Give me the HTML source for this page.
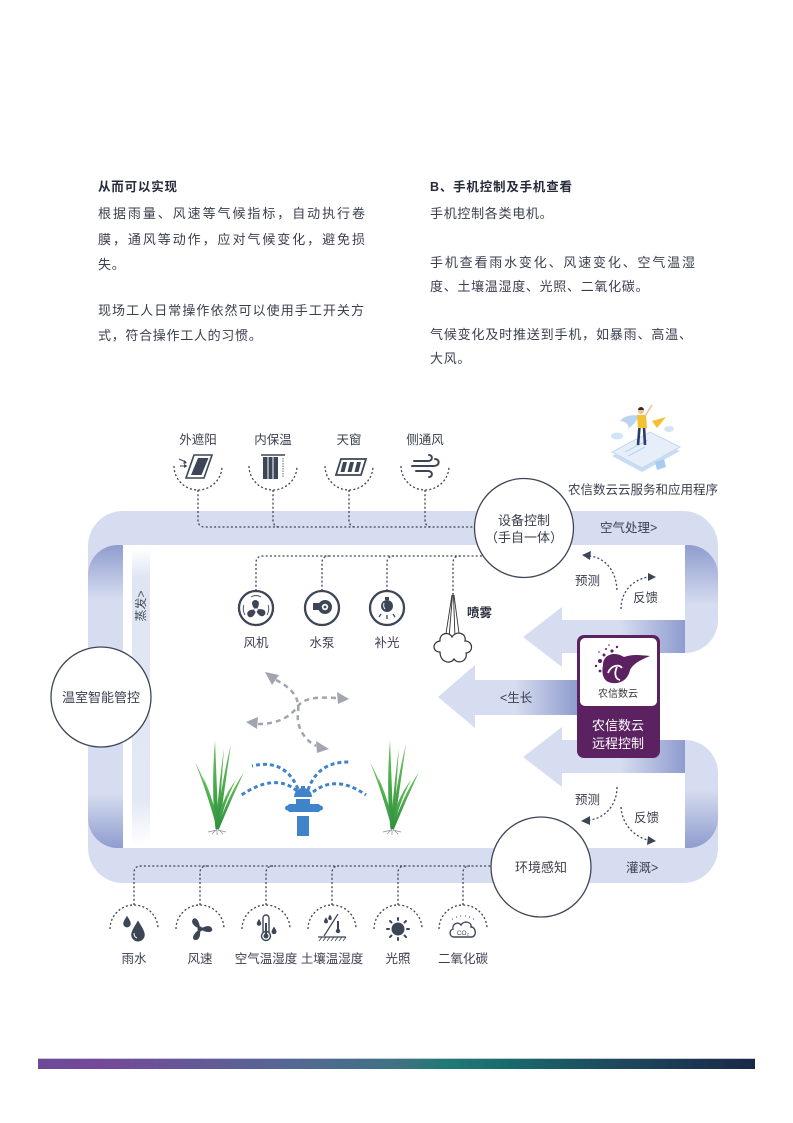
<!DOCTYPE html>
<html><head><meta charset="utf-8">
<style>
html,body{margin:0;padding:0;background:#fff;}
svg{display:block}
text{font-family:"Liberation Sans","Noto Sans CJK SC",sans-serif;fill:#3a3f4d;font-size:12.5px}
.b{font-weight:bold;fill:#262b3a;font-size:12.5px;letter-spacing:0.8px}
.p{font-size:13px;letter-spacing:0.7px;fill:#3a3f4d}
.j{font-size:13px;fill:#3a3f4d}
.dl{fill:none;stroke:#3d4656;stroke-width:1.3;stroke-dasharray:2 2.2}
.ic{fill:#3d4656}
.ics{fill:none;stroke:#3d4656}
</style></head><body>
<svg width="793" height="1123" viewBox="0 0 793 1123" xmlns="http://www.w3.org/2000/svg">
<defs>
 <linearGradient id="gL" x1="0" y1="545" x2="0" y2="848" gradientUnits="userSpaceOnUse">
  <stop offset="0" stop-color="#8f9cce"/><stop offset="0.18" stop-color="#d6ddf0"/>
  <stop offset="0.82" stop-color="#d6ddf0"/><stop offset="1" stop-color="#8f9cce"/>
 </linearGradient>
 <linearGradient id="gTR" x1="0" y1="545" x2="0" y2="605" gradientUnits="userSpaceOnUse">
  <stop offset="0" stop-color="#8f9cce"/><stop offset="1" stop-color="#d6ddf0"/>
 </linearGradient>
 <linearGradient id="gBR" x1="0" y1="790" x2="0" y2="848" gradientUnits="userSpaceOnUse">
  <stop offset="0" stop-color="#d6ddf0"/><stop offset="1" stop-color="#8f9cce"/>
 </linearGradient>
 <linearGradient id="gH" x1="0" y1="0" x2="1" y2="0">
  <stop offset="0" stop-color="#d6ddf0"/><stop offset="1" stop-color="#8f9cce"/>
 </linearGradient>
 <linearGradient id="gV" x1="0" y1="548" x2="0" y2="845" gradientUnits="userSpaceOnUse">
  <stop offset="0" stop-color="#ffffff"/><stop offset="0.1" stop-color="#e0e5f4"/>
  <stop offset="0.85" stop-color="#e3e8f5"/><stop offset="1" stop-color="#ffffff"/>
 </linearGradient>
 <linearGradient id="gBar" x1="0" y1="0" x2="1" y2="0">
  <stop offset="0" stop-color="#6b4a98"/><stop offset="0.08" stop-color="#76489a"/>
  <stop offset="0.35" stop-color="#556794"/><stop offset="0.5" stop-color="#3f7283"/>
  <stop offset="0.57" stop-color="#1f7a75"/><stop offset="0.66" stop-color="#176a6c"/>
  <stop offset="0.8" stop-color="#1d4a5e"/><stop offset="1" stop-color="#1a2848"/>
 </linearGradient>
 <linearGradient id="gGr" x1="0" y1="1" x2="0" y2="0">
  <stop offset="0" stop-color="#2c8f3c"/><stop offset="1" stop-color="#6cc45e"/>
 </linearGradient>
</defs>

<!-- Top text -->
<text class="b" x="98" y="191">从而可以实现</text>
<text class="j" x="98" y="218" textLength="267" lengthAdjust="spacing">根据雨量、风速等气候指标，自动执行卷</text>
<text class="j" x="98" y="244" textLength="267" lengthAdjust="spacing">膜，通风等动作，应对气候变化，避免损</text>
<text class="p" x="98" y="269">失。</text>
<text class="j" x="98" y="315" textLength="266" lengthAdjust="spacing">现场工人日常操作依然可以使用手工开关方</text>
<text class="p" x="98" y="340">式，符合操作工人的习惯。</text>

<text class="b" x="430" y="191">B、手机控制及手机查看</text>
<text class="p" x="430" y="218">手机控制各类电机。</text>
<text class="j" x="430" y="267" textLength="265" lengthAdjust="spacing">手机查看雨水变化、风速变化、空气温湿</text>
<text class="p" x="430" y="291">度、土壤温湿度、光照、二氧化碳。</text>
<text class="j" x="430" y="339" textLength="262" lengthAdjust="spacing">气候变化及时推送到手机，如暴雨、高温、</text>
<text class="p" x="430" y="363">大风。</text>

<!-- Pipe -->
<path fill="#d6ddf0" d="M 123,511 H 683 A 35 35 0 0 1 718,546 V 620 A 33 33 0 0 1 685,653 H 562 V 620 H 685 V 545 H 123 V 848 H 685 V 773 H 562 V 740 H 685 A 33 33 0 0 1 718,773 V 848 A 35 35 0 0 1 683,883 H 123 A 35 35 0 0 1 88,848 V 546 A 35 35 0 0 1 123,511 Z"/>
<path fill="url(#gL)" d="M 123,545 V 848 H 118 A 30 30 0 0 1 88,818 V 575 A 30 30 0 0 1 118,545 Z"/>
<path fill="url(#gTR)" d="M 685,545 H 688 A 30 30 0 0 1 718,575 V 620 H 685 Z"/>
<path fill="url(#gBR)" d="M 685,773 H 718 V 818 A 30 30 0 0 1 688,848 H 685 Z"/>
<rect x="620" y="620" width="65" height="33" fill="url(#gH)"/>
<rect x="620" y="740" width="65" height="33" fill="url(#gH)"/>
<polygon fill="#d6ddf0" points="523,637 562,607 562,667"/>
<polygon fill="#d6ddf0" points="523,757 562,727 562,787"/>
<polygon fill="#d6ddf0" points="438,697 475,665 475,728"/>
<rect x="475" y="680" width="102" height="35" fill="#d6ddf0"/>
<rect x="515" y="680" width="62" height="35" fill="url(#gH)"/>

<!-- evaporation strip -->
<rect x="132" y="548" width="18" height="297" fill="url(#gV)"/>
<text transform="translate(145,606) rotate(-90)" text-anchor="middle" style="font-size:12px;fill:#4a4f5c">蒸发&gt;</text>

<!-- pipe labels -->
<text x="600" y="532">空气处理&gt;</text>
<text x="626" y="872">灌溉&gt;</text>
<text x="500" y="702">&lt;生长</text>
<text x="575" y="585">预测</text>
<text x="633" y="602">反馈</text>
<text x="575" y="804">预测</text>
<text x="634" y="822">反馈</text>

<!-- feedback arrows -->
<path class="dl" d="M 617,590 C 616,570 605,558 590,556"/>
<polygon class="ic" points="582,555 591,551 590,560"/>
<path class="dl" d="M 621,609 C 621,592 632,580 648,577"/>
<polygon class="ic" points="656,577 648,573 648,581"/>
<path class="dl" d="M 617,787 C 617,805 605,818 590,820"/>
<polygon class="ic" points="581,821 590,816 590,825"/>
<path class="dl" d="M 621,807 C 622,825 635,837 648,840"/>
<polygon class="ic" points="656,841 648,836 647,845"/>

<!-- Top icons -->
<text x="198" y="444" text-anchor="middle">外遮阳</text>
<text x="273" y="444" text-anchor="middle">内保温</text>
<text x="349" y="444" text-anchor="middle">天窗</text>
<text x="425" y="444" text-anchor="middle">侧通风</text>
<path class="dl" d="M 174,466 A 24 24 0 0 0 222,466"/>
<path class="dl" d="M 249,466 A 24 24 0 0 0 297,466"/>
<path class="dl" d="M 325,466 A 24 24 0 0 0 373,466"/>
<path class="dl" d="M 401,466 A 24 24 0 0 0 449,466"/>
<path class="dl" d="M 198,490 V 520 Q 198,527 205,527 H 480"/>
<path class="dl" d="M 273,490 V 520 Q 273,527 280,527"/>
<path class="dl" d="M 349,490 V 520 Q 349,527 356,527"/>
<path class="dl" d="M 425,490 V 520 Q 425,527 432,527"/>
<!-- 外遮阳 -->
<polygon points="194,455 212,455 204,478 186,478" fill="none" stroke="#3d4656" stroke-width="1.6"/>
<polygon class="ic" points="198,458 208.5,458 201.5,475 191,475"/>
<path d="M 179,459 L 186,462 M 180,466 L 186,466" stroke="#3d4656" stroke-width="1" fill="none"/>
<polygon class="ic" points="187,463 184,460 183.5,464"/>
<polygon class="ic" points="187.5,466 184,464 184,468"/>
<!-- 内保温 -->
<line x1="261" y1="455" x2="285" y2="455" stroke="#3d4656" stroke-width="1.5"/>
<rect class="ic" x="263" y="457" width="15" height="22"/>
<line x1="268" y1="457" x2="268" y2="479" stroke="#fff" stroke-width="1"/>
<line x1="273" y1="457" x2="273" y2="479" stroke="#fff" stroke-width="1"/>
<line x1="283" y1="458" x2="283" y2="477" stroke="#3d4656" stroke-width="0.8" stroke-dasharray="1.5 1"/>
<!-- 天窗 -->
<polygon points="341,459 366,459 361,475 336,475" fill="none" stroke="#3d4656" stroke-width="1.8"/>
<polygon class="ic" points="343,462 347,462 344.5,472 340.5,472"/>
<polygon class="ic" points="350,462 354,462 351.5,472 347.5,472"/>
<polygon class="ic" points="357,462 361,462 358.5,472 354.5,472"/>
<!-- 侧通风 -->
<path d="M 414,461 H 428 C 433,461 433,455 429,455 M 412,466 H 434 C 440,466 440,459 435,459 M 416,471 H 428 C 433,471 433,477 429,477" fill="none" stroke="#3d4656" stroke-width="2" stroke-linecap="round"/>

<!-- Middle dotted lines -->
<path class="dl" d="M 256,591 V 563 Q 256,556 263,556 H 486"/>
<path class="dl" d="M 322,591 V 563 Q 322,556 329,556"/>
<path class="dl" d="M 387,591 V 563 Q 387,556 394,556"/>
<path class="dl" d="M 453,595 V 563 Q 453,556 460,556"/>

<!-- Middle icons -->
<circle cx="256" cy="608" r="17" fill="#fff" stroke="#3d4656" stroke-width="2.3"/>
<circle cx="322" cy="608" r="17" fill="#fff" stroke="#3d4656" stroke-width="2.3"/>
<circle cx="387" cy="608" r="17" fill="#fff" stroke="#3d4656" stroke-width="2.3"/>
<g transform="translate(256,610)" class="ic">
 <path d="M0,0 C-4,-3 -6,-9 -1,-10 C4,-10 4,-4 0,0 Z"/>
 <path d="M0,0 C-4,-3 -6,-9 -1,-10 C4,-10 4,-4 0,0 Z" transform="rotate(120)"/>
 <path d="M0,0 C-4,-3 -6,-9 -1,-10 C4,-10 4,-4 0,0 Z" transform="rotate(240)"/>
 <circle r="1.6" fill="#fff"/>
</g>
<path d="M 251,597 Q 256,594 261,597 M 244,605 Q 242,610 245,615 M 268,605 Q 270,610 267,615" fill="none" stroke="#3d4656" stroke-width="0.9"/>
<rect class="ic" x="313" y="603" width="9" height="7"/>
<circle class="ic" cx="325" cy="607" r="7"/>
<circle cx="325" cy="607" r="3.2" fill="#fff"/>
<circle class="ic" cx="325" cy="607" r="1.4"/>
<rect class="ic" x="385" y="597" width="4" height="3"/>
<circle class="ic" cx="387" cy="606" r="6"/>
<path d="M 384,603 Q 383,607 385,609" stroke="#fff" stroke-width="1" fill="none"/>
<path d="M 381,614 L 379,617 M 387,615 L 387,619 M 393,614 L 395,617" stroke="#3d4656" stroke-width="1.3"/>
<text x="256" y="647" text-anchor="middle">风机</text>
<text x="322" y="647" text-anchor="middle">水泵</text>
<text x="387" y="647" text-anchor="middle">补光</text>

<!-- spray -->
<path d="M 452,595 L 445,640 M 452.5,595 L 449,638 M 453.5,595 L 455,638 M 454,595 L 460,641" stroke="#333" stroke-width="0.9" fill="none"/>
<path d="M 440,652 C 432,652 432,642 440,641 C 439,633 449,631 452,637 C 456,630 467,633 465,641 C 473,641 474,652 466,653 C 468,661 458,665 454,659 C 450,665 440,662 440,652 Z" fill="#fff" stroke="#333" stroke-width="1.2"/>
<text x="467" y="617" style="font-weight:bold;fill:#262b3a">喷雾</text>

<!-- gray arrows -->
<path d="M 276,680 C 292,688 300,698 298,712 C 296,728 305,740 316,746" fill="none" stroke="#a0a5ae" stroke-width="2.5" stroke-dasharray="5 4"/>
<polygon fill="#a0a5ae" points="265,672 279,675 272,685"/>
<polygon fill="#a0a5ae" points="329,749 316,741 317,753"/>
<path d="M 258,724 C 280,724 292,715 298,706 C 305,697 320,697 336,698" fill="none" stroke="#a0a5ae" stroke-width="2.5" stroke-dasharray="5 4"/>
<polygon fill="#a0a5ae" points="246,722 258,717 257,729"/>
<polygon fill="#a0a5ae" points="349,699 337,692 338,704"/>

<!-- sprinkler -->
<g fill="none" stroke="#3f84c8" stroke-width="3" stroke-dasharray="4 3">
 <path d="M 298,789 Q 285,758 252,766"/>
 <path d="M 297,791 Q 275,772 240,796"/>
 <path d="M 308,790 Q 318,761 350,762"/>
 <path d="M 313,792 Q 336,774 366,795"/>
</g>
<path d="M 294,797 A 9 9 0 0 1 312,797 Z" fill="#3f84c8"/>
<rect x="301" y="786" width="4" height="3" fill="#3f84c8"/>
<rect x="288" y="804" width="32" height="8" rx="2" fill="#3f84c8"/>
<rect x="285" y="805.5" width="38" height="5" rx="2.5" fill="#3f84c8"/>
<rect x="296" y="799" width="14" height="5" fill="#3f84c8"/>
<rect x="297" y="816" width="12" height="20" fill="#3f84c8"/>

<!-- plants -->
<g id="plant">
 <g fill="url(#gGr)">
  <path d="M 215.5,829 Q 211,790 215,740 Q 217,790 218.5,829 Z"/>
  <path d="M 216,829 Q 222,780 231,744 Q 225,786 219,829 Z"/>
  <path d="M 217,829 Q 207,792 195,762 Q 211,792 219,829 Z"/>
  <path d="M 217,829 Q 228,796 244,772 Q 231,800 219,829 Z"/>
  <path d="M 216,829 Q 218,790 224,748 Q 221,790 219,829 Z"/>
  <path d="M 217,829 Q 210,800 203,777 Q 214,800 219,829 Z"/>
  <path d="M 217,829 Q 220,800 236,780 Q 223,805 219,829 Z"/>
 </g>
 <path d="M 217,829 L 212,834 M 217,829 L 217,835 M 218,829 L 223,834 M 217,830 L 208,832 M 218,830 L 226,832" stroke="#8a8f96" stroke-width="0.7"/>
</g>
<use href="#plant" transform="translate(175,0)"/>

<!-- Bottom dotted lines -->
<path class="dl" d="M 134,905 V 873 Q 134,866 141,866 H 495"/>
<path class="dl" d="M 200,905 V 873 Q 200,866 207,866"/>
<path class="dl" d="M 266,905 V 873 Q 266,866 273,866"/>
<path class="dl" d="M 332,905 V 873 Q 332,866 339,866"/>
<path class="dl" d="M 398,905 V 873 Q 398,866 405,866"/>
<path class="dl" d="M 463,905 V 873 Q 463,866 470,866"/>
<path class="dl" d="M 110,929 A 24 24 0 0 1 158,929"/>
<path class="dl" d="M 176,929 A 24 24 0 0 1 224,929"/>
<path class="dl" d="M 242,929 A 24 24 0 0 1 290,929"/>
<path class="dl" d="M 308,929 A 24 24 0 0 1 356,929"/>
<path class="dl" d="M 374,929 A 24 24 0 0 1 422,929"/>
<path class="dl" d="M 439,929 A 24 24 0 0 1 487,929"/>

<!-- Bottom icons -->
<path class="ic" transform="translate(127,921) scale(0.75)" d="M0,-7 C3,-2 5,1 5,3.5 A5,5 0 0 1 -5,3.5 C-5,1 -3,-2 0,-7 Z"/>
<path class="ic" transform="translate(138,930) scale(1.35)" d="M0,-7 C3,-2 5,1 5,3.5 A5,5 0 0 1 -5,3.5 C-5,1 -3,-2 0,-7 Z"/>
<path d="M 134,933 Q 134,937 137,938" stroke="#fff" stroke-width="1" fill="none"/>
<g transform="translate(200,929)" class="ic">
 <path d="M0,0 C-5,-2 -10,-6 -7,-10 C-4,-13 0,-7 0,0 Z"/>
 <path d="M0,0 C-5,-2 -10,-6 -7,-10 C-4,-13 0,-7 0,0 Z" transform="rotate(125)"/>
 <path d="M0,0 C-5,-2 -10,-6 -7,-10 C-4,-13 0,-7 0,0 Z" transform="rotate(240)"/>
 <circle r="2.5"/>
</g>
<rect x="263" y="915" width="6" height="19" rx="3" fill="#fff" stroke="#3d4656" stroke-width="1.4"/>
<circle cx="266" cy="936" r="4.5" fill="#fff" stroke="#3d4656" stroke-width="1.4"/>
<circle class="ic" cx="266" cy="936" r="2.5"/>
<rect class="ic" x="265" y="923" width="2" height="12"/>
<path class="ic" transform="translate(259,922) scale(0.45)" d="M0,-7 C3,-2 5,1 5,3.5 A5,5 0 0 1 -5,3.5 C-5,1 -3,-2 0,-7 Z"/>
<path class="ic" transform="translate(274,930) scale(0.5)" d="M0,-7 C3,-2 5,1 5,3.5 A5,5 0 0 1 -5,3.5 C-5,1 -3,-2 0,-7 Z"/>
<line x1="318" y1="937" x2="346" y2="937" stroke="#3d4656" stroke-width="1.2"/>
<path d="M 319,941 L 322,937 M 323,941 L 326,937 M 327,941 L 330,937 M 331,941 L 334,937 M 335,941 L 338,937 M 339,941 L 342,937 M 343,941 L 346,937" stroke="#3d4656" stroke-width="0.8"/>
<line x1="324" y1="936" x2="338" y2="914" stroke="#3d4656" stroke-width="1.2"/>
<path class="ic" transform="translate(326,920) scale(0.4)" d="M0,-7 C3,-2 5,1 5,3.5 A5,5 0 0 1 -5,3.5 C-5,1 -3,-2 0,-7 Z"/>
<path class="ic" transform="translate(330,917) scale(0.35)" d="M0,-7 C3,-2 5,1 5,3.5 A5,5 0 0 1 -5,3.5 C-5,1 -3,-2 0,-7 Z"/>
<rect class="ic" x="337" y="921" width="2" height="9"/>
<circle class="ic" cx="338" cy="931" r="2.2"/>
<circle class="ic" cx="398" cy="929" r="6.5"/>
<g stroke="#3d4656" stroke-width="2" stroke-linecap="round">
 <line x1="398" y1="918" x2="398" y2="920"/><line x1="398" y1="938" x2="398" y2="940"/>
 <line x1="387" y1="929" x2="389" y2="929"/><line x1="407" y1="929" x2="409" y2="929"/>
 <line x1="390" y1="921" x2="391.5" y2="922.5"/><line x1="404.5" y1="935.5" x2="406" y2="937"/>
 <line x1="406" y1="921" x2="404.5" y2="922.5"/><line x1="391.5" y1="935.5" x2="390" y2="937"/>
</g>
<path d="M 454,937 C 449,937 449,930 453,929 C 452,924 458,921 461,925 C 464,920 472,922 471,927 C 476,927 477,936 472,937 Z" fill="#fff" stroke="#3d4656" stroke-width="1.4"/>
<text x="463" y="935" text-anchor="middle" style="font-size:6.5px;fill:#3d4656">CO₂</text>
<path d="M 452,919 L 453,919 M 456,917 L 457,917 M 460,916 L 461,916 M 465,916 L 466,916 M 469,917 L 470,917 M 473,919 L 474,919" stroke="#3d4656" stroke-width="1"/>

<text x="134" y="963" text-anchor="middle">雨水</text>
<text x="200" y="963" text-anchor="middle">风速</text>
<text x="266" y="963" text-anchor="middle">空气温湿度</text>
<text x="332" y="963" text-anchor="middle">土壤温湿度</text>
<text x="398" y="963" text-anchor="middle">光照</text>
<text x="463" y="963" text-anchor="middle">二氧化碳</text>

<!-- Circles -->
<circle cx="524" cy="528" r="49.5" fill="#fff" stroke="#3d4656" stroke-width="1.3"/>
<text x="524" y="525" text-anchor="middle" style="font-size:13px">设备控制</text>
<text x="524" y="542" text-anchor="middle" style="font-size:13px">（手自一体）</text>
<circle cx="541" cy="867" r="50" fill="#fff" stroke="#3d4656" stroke-width="1.3"/>
<text x="541" y="872" text-anchor="middle" style="font-size:13px">环境感知</text>
<circle cx="101" cy="697" r="50" fill="#fff" stroke="#3d4656" stroke-width="1.3"/>
<text x="101" y="702" text-anchor="middle" style="font-size:13px">温室智能管控</text>

<!-- Purple box -->
<rect x="577" y="635" width="83" height="123" rx="7" fill="#5b2160"/>
<rect x="580" y="638" width="77" height="68" rx="5" fill="#fff"/>
<path fill="#5b2160" d="M 603,665 C 603,654 615,651 624,657 C 632,654 641,655 650,656 C 640,660 633,664 630,670 C 628,680 620,684 612,683 C 604,682 601,675 603,665 Z"/>
<path d="M 608,673 C 611,665 619,664 622,668 M 617,667 C 614,673 615,679 620,680" fill="none" stroke="#fff" stroke-width="1.8"/>
<g fill="#5b2160">
 <circle cx="600" cy="661" r="2"/><circle cx="604" cy="655" r="1.5"/><circle cx="596" cy="666" r="1.2"/>
 <circle cx="606" cy="649" r="1"/><circle cx="612" cy="651" r="1.6"/><circle cx="599" cy="652" r="0.8"/>
 <circle cx="617" cy="647" r="1.2"/><circle cx="600" cy="671" r="1.4"/><circle cx="609" cy="645" r="0.8"/>
</g>
<text x="618" y="697" text-anchor="middle" style="font-size:10px;fill:#333">农信数云</text>
<text x="618" y="730" text-anchor="middle" style="font-size:13px;fill:#fff">农信数云</text>
<text x="618" y="748" text-anchor="middle" style="font-size:13px;fill:#fff">远程控制</text>

<!-- phone illustration -->
<polygon points="612,456 650,436 680,451 642,472" fill="#c9dcf3"/>
<polygon points="612,452 650,432 680,447 642,468" fill="#e6eff9" stroke="#c2d8f1" stroke-width="1"/>
<path d="M 625,452 L 648,440 M 628,456 L 645,447" stroke="#bcd3ee" stroke-width="1.2"/>
<ellipse cx="617" cy="436" rx="6" ry="3.5" fill="#d3e4f7"/>
<ellipse cx="669" cy="429" rx="5" ry="3" fill="#d3e4f7"/>
<path d="M 639,416 C 632,414 624,416 620,421 C 626,421 630,426 628,429 C 633,425 637,421 639,416 Z" fill="#b9d5f2"/>
<path d="M 639.5,427 L 638,445 M 644,427 L 645,445" stroke="#2d3b6b" stroke-width="2.6"/>
<polygon points="637,415 646,415 647,428 638,428" fill="#f2c230"/>
<line x1="645" y1="416" x2="652" y2="405" stroke="#f0c09a" stroke-width="1.6"/>
<circle cx="641" cy="411" r="3" fill="#f0c09a"/>
<path d="M 638,410 A 3 3 0 0 1 644,410 Z" fill="#3a2a20"/>
<polygon points="652,421 666,417 657,428" fill="#f2c230"/>
<polygon points="655,462 664,459 666,467 657,470" fill="#a9cbef"/>
<text x="643" y="494" text-anchor="middle" style="font-size:12.5px">农信数云云服务和应用程序</text>

<!-- bottom bar -->
<rect x="38" y="1058" width="717" height="1" fill="#c5c8d8"/>
<rect x="38" y="1059" width="717" height="10" fill="url(#gBar)"/>
</svg>
</body></html>
